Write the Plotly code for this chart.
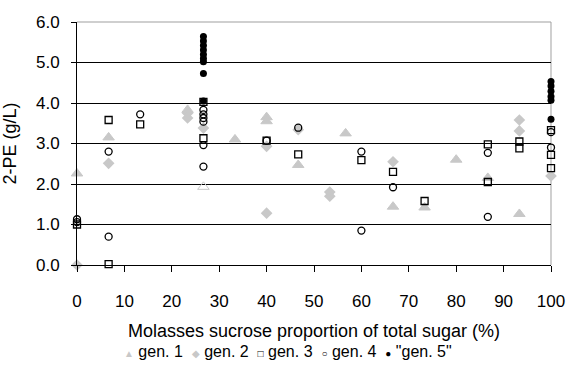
import plotly.graph_objects as go

# ---- data ----
gen1_x = [0, 6.67, 23.33, 26.67, 33.33, 40, 40, 46.67, 56.67, 66.67, 73.33, 80, 86.67, 93.33]
gen1_y = [2.26, 3.15, 3.83, 1.93, 3.10, 3.65, 3.55, 2.47, 3.25, 1.44, 1.42, 2.60, 2.15, 1.26]

gen2_x = [0, 6.67, 23.33, 23.33, 26.67, 40, 40, 46.67, 53.33, 53.33, 66.67, 93.33, 93.33, 100]
gen2_y = [0.0, 2.51, 3.75, 3.63, 3.38, 2.93, 1.28, 3.34, 1.80, 1.70, 2.55, 3.58, 3.31, 2.20]

gen3_x = [0, 6.67, 6.67, 13.33, 26.67, 26.67, 40, 46.67, 60, 66.67, 73.33, 86.67, 86.67,
          93.33, 93.33, 100, 100, 100]
gen3_y = [1.00, 3.58, 0.02, 3.47, 4.03, 3.13, 3.07, 2.73, 2.59, 2.30, 1.58, 2.98, 2.05,
          3.05, 2.88, 3.33, 2.72, 2.39]

gen4_x = [0, 0, 6.67, 6.67, 13.33, 26.67, 26.67, 26.67, 26.67, 26.67, 26.67, 40, 46.67,
          60, 60, 66.67, 86.67, 86.67, 100, 100]
gen4_y = [1.13, 1.06, 2.80, 0.70, 3.72, 3.83, 3.72, 3.63, 3.54, 2.96, 2.43, 3.07, 3.39,
          2.80, 0.85, 1.92, 2.77, 1.19, 3.28, 2.90]

gen5_x = [26.67] * 9 + [100] * 6
gen5_y = [5.64, 5.53, 5.42, 5.31, 5.20, 5.10, 5.02, 4.73, 4.05,
          4.53, 4.42, 4.29, 4.16, 4.07, 3.60]

series_names = ["gen. 1", "gen. 2", "gen. 3", "gen. 4", "\"gen. 5\""]
x_ticks = [0, 10, 20, 30, 40, 50, 60, 70, 80, 90, 100]
y_ticks = [0, 1, 2, 3, 4, 5, 6]
y_ticklabels = ["0.0", "1.0", "2.0", "3.0", "4.0", "5.0", "6.0"]

FONT = "Arial, 'Liberation Sans', sans-serif"
GRAY = "#c8c8c8"

gen1_symbols = ["triangle-up-open" if (x == 26.67 and y < 2.5) else "triangle-up"
                for x, y in zip(gen1_x, gen1_y)]

fig = go.Figure()
fig.add_trace(go.Scatter(
    x=gen1_x, y=gen1_y, mode="markers", name=series_names[0], cliponaxis=False,
    marker=dict(symbol=gen1_symbols, size=10, color=GRAY, line=dict(width=1, color=GRAY))))
fig.add_trace(go.Scatter(
    x=gen2_x, y=gen2_y, mode="markers", name=series_names[1], cliponaxis=False,
    marker=dict(symbol="diamond", size=9, color=GRAY, line=dict(width=0))))
fig.add_trace(go.Scatter(
    x=gen3_x, y=gen3_y, mode="markers", name=series_names[2], cliponaxis=False,
    marker=dict(symbol="square-open", size=7, color="#000", line=dict(width=1.3, color="#000"))))
fig.add_trace(go.Scatter(
    x=gen4_x, y=gen4_y, mode="markers", name=series_names[3], cliponaxis=False,
    marker=dict(symbol="circle-open", size=7, color="#000", line=dict(width=1.3, color="#000"))))
fig.add_trace(go.Scatter(
    x=gen5_x, y=gen5_y, mode="markers", name=series_names[4], cliponaxis=False,
    marker=dict(symbol="circle", size=7, color="#000", line=dict(width=0))))

# plot-area border (gray top and right)
fig.add_shape(type="line", xref="x domain", yref="y domain", x0=0, x1=1, y0=1, y1=1,
              line=dict(color="#a0a0a0", width=1.2), layer="above")
fig.add_shape(type="line", xref="x domain", yref="y domain", x0=1, x1=1, y0=0, y1=1,
              line=dict(color="#b0b0b0", width=1.2), layer="below")

# compact legend line, as in the original
glyphs = [("▲", GRAY), ("◆", GRAY), ("□", "#000"), ("○", "#000"), ("●", "#000")]
parts = []
for (g, c), name in zip(glyphs, series_names):
    parts.append(f'<span style="color:{c};font-size:10px">{g}</span> {name}')
legend_text = "&nbsp;&nbsp;".join(parts)
fig.add_annotation(text=legend_text, xref="paper", yref="paper", x=0.445, y=-0.358,
                   xanchor="center", yanchor="middle", showarrow=False,
                   font=dict(family=FONT, size=16, color="#000"))

fig.update_layout(
    width=568, height=369,
    margin=dict(l=77, r=17, t=22, b=104),
    paper_bgcolor="white", plot_bgcolor="white",
    font=dict(family=FONT, size=17, color="#000"),
    showlegend=False,
    xaxis=dict(range=[0, 100], tickvals=x_ticks, showgrid=False, zeroline=False,
               showline=True, linecolor="#000", linewidth=1, automargin=False,
               ticks="outside", ticklen=6, tickcolor="#000",
               ticklabelstandoff=15, tickfont=dict(size=17),
               title=dict(text="Molasses sucrose proportion of total sugar (%)",
                          standoff=13, font=dict(size=18))),
    yaxis=dict(range=[0, 6], tickvals=y_ticks, ticktext=y_ticklabels,
               showgrid=True, gridcolor="#000", gridwidth=1, zeroline=False,
               showline=True, linecolor="#000", linewidth=1, automargin=False,
               ticks="outside", ticklen=5, tickcolor="#000",
               ticklabelstandoff=8, tickfont=dict(size=17),
               title=dict(text="2-PE (g/L)", standoff=14, font=dict(size=18))),
)

fig.write_html("out.html")
